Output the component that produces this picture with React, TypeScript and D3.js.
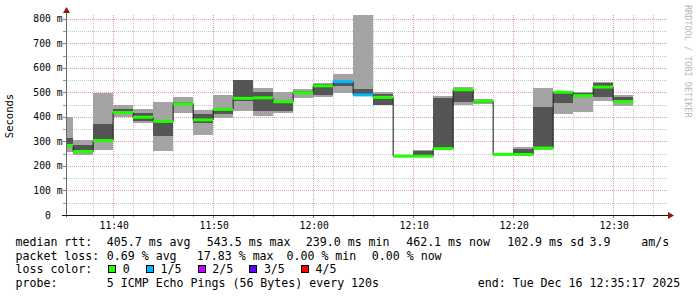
import React from 'react';
import * as d3 from 'd3';

// ---- data ----
const times = ["11:34","11:36","11:38","11:40","11:42","11:44","11:46","11:48","11:50","11:52","11:54","11:56","11:58","12:00","12:02","12:04","12:06","12:08","12:10","12:12","12:14","12:16","12:18","12:20","12:22","12:24","12:26","12:28","12:30"];
const ping1 =  [256,246,266,401,374,262,416,327,394,426,405,415,476,483,499,486,448,239,239,268,449,453,246,245,264,412,422,465,446];
const ping2 =  [277,255,300,412,382,321,449,374,412,465,426,426,494,490,527,488,450,239,239,268,462,457,247,245,269,457,482,483,457];
const median = [284,259,304,418,399,382,454,388,431,476,478,462,499,527,544,490,480,240,240,271,511,464,247,247,273,501,487,522,463];
const ping4 =  [314,287,371,434,416,388,461,412,437,549,502,465,506,533,547,513,494,240,263,476,514,471,247,271,442,504,496,538,483];
const ping5 =  [399,305,498,450,433,461,482,427,491,552,518,502,513,538,576,816,502,241,265,486,521,473,248,278,518,507,501,543,491];
const lossCount = [0,0,0,0,0,0,0,0,0,0,0,0,0,0,1,1,0,0,0,0,0,0,0,0,0,0,0,0,0];

const yGridValues = [50,100,150,200,250,300,350,400,450,500,550,600,650,700,750,800];
const yLabelValues = [0,100,200,300,400,500,600,700,800];
const lossLabels = ["0","1/5","2/5","3/5","4/5"];
const lossColors = ["#20ff00","#00b8ff","#c800ff","#5a00ff","#ff0000"];

const medianLegend = ["median rtt:","405.7 ms avg","543.5 ms max","239.0 ms min","462.1 ms now","102.9 ms sd","3.9","am/s"];
const lossLegend = ["packet loss:","0.69 % avg","17.83 % max","0.00 % min","0.00 % now"];
const probeLegend = ["probe:","5 ICMP Echo Pings (56 Bytes) every 120s","end: Tue Dec 16 12:35:17 2025"];

const W = 697, H = 297;
const X0 = 66, X1 = 666, YT = 15, YB = 215;
const MONO = "'DejaVu Sans Mono', monospace";

export default function App() {
  const parse = d3.timeParse("%H:%M:%S");
  const start = parse("11:35:17")!;
  const end = parse("12:35:17")!;
  const x = d3.scaleTime().domain([start, end]).range([X0, X1]);
  const y = d3.scaleLinear().domain([0, d3.max(ping5)!]).range([YB, YT]);

  const bars = times.map((t, i) => {
    const t0 = parse(t + ":00")!;
    const t1 = d3.timeMinute.offset(t0, 2);
    return { t0, t1, i };
  });

  const minorX = d3.timeMinute.every(2)!.range(d3.timeMinute.offset(start, 1), end);
  const isMajorX = (d: Date) => d.getMinutes() % 10 === 0;

  const stepPts: [Date, number][] = bars.map(b => [b.t0, median[b.i]]);
  stepPts.push([bars[bars.length - 1].t1, median[median.length - 1]]);
  const medLine = d3.line<[Date, number]>().x(d => x(d[0])).y(d => y(d[1])).curve(d3.curveStepAfter)(stepPts)!;

  const minorCol = "#c8c8c8";
  const majorCol = "#e4a0a0";

  // legend positions
  const col = [16, 107.3, 207.3, 306.3, 406.7, 507.7, 590, 641.7];
  const col2 = [16, 107.3, 197.3, 287, 372.3];
  const col4 = [16, 107.3, 478.3];
  const charW = 7.0;
  const lossItems: { sx: number; lx: number; label: string; color: string }[] = [];
  let cx = 108.3;
  lossLabels.forEach((l, i) => {
    lossItems.push({ sx: cx, lx: cx + 15, label: l, color: lossColors[i] });
    cx = cx + 15 + l.length * charW + 15.7;
  });

  return (
    <svg width={W} height={H} style={{ display: 'block', position: 'absolute', left: 0, top: 0, background: '#fff' }}>
      <defs>
        <clipPath id="plot"><rect x={X0} y={YT - 1} width={X1 - X0} height={YB - YT + 1} /></clipPath>
      </defs>
      <rect x={0} y={0} width={W} height={H} fill="#fff" />
      {/* grid */}
      <g shapeRendering="crispEdges">
        {yGridValues.filter(v => v % 100 !== 0).map(v => (
          <line key={'hy' + v} x1={X0 - 2} x2={X1 + 2} y1={Math.round(y(v)) + 0.5} y2={Math.round(y(v)) + 0.5} stroke={minorCol} strokeDasharray="1,1" />
        ))}
        {minorX.filter(d => !isMajorX(d)).map(d => (
          <line key={'vx' + d.getTime()} x1={Math.round(x(d)) + 0.5} x2={Math.round(x(d)) + 0.5} y1={YT} y2={YB + 2} stroke={minorCol} strokeDasharray="1,1" />
        ))}
        {yGridValues.filter(v => v % 100 === 0).map(v => (
          <line key={'hY' + v} x1={X0 - 2} x2={X1 + 2} y1={Math.round(y(v)) + 0.5} y2={Math.round(y(v)) + 0.5} stroke={majorCol} strokeDasharray="1,1" />
        ))}
        {minorX.filter(isMajorX).map(d => (
          <line key={'vX' + d.getTime()} x1={Math.round(x(d)) + 0.5} x2={Math.round(x(d)) + 0.5} y1={YT} y2={YB + 3} stroke={majorCol} strokeDasharray="1,1" />
        ))}
        {yGridValues.map(v => (
          <line key={'ty' + v} x1={X0 - 3} x2={X0} y1={Math.round(y(v)) + 0.5} y2={Math.round(y(v)) + 0.5} stroke={v % 100 === 0 ? "#b07070" : "#999"} />
        ))}
        {minorX.map(d => (
          <line key={'tx' + d.getTime()} x1={Math.round(x(d)) + 0.5} x2={Math.round(x(d)) + 0.5} y1={YB} y2={YB + (isMajorX(d) ? 3 : 2)} stroke={isMajorX(d) ? "#b07070" : "#999"} />
        ))}
      </g>
      {/* smoke */}
      <g clipPath="url(#plot)" shapeRendering="crispEdges">
        {bars.map(b => (
          <rect key={'l' + b.i} x={x(b.t0)} width={x(b.t1) - x(b.t0)} y={y(ping5[b.i])} height={y(ping1[b.i]) - y(ping5[b.i])} fill="#a4a4a4" />
        ))}
        {bars.map(b => (
          <rect key={'d' + b.i} x={x(b.t0)} width={x(b.t1) - x(b.t0)} y={y(ping4[b.i])} height={y(ping2[b.i]) - y(ping4[b.i])} fill="#555555" />
        ))}
      </g>
      <g clipPath="url(#plot)">
        <path d={medLine} fill="none" stroke="#1a1a1a" strokeWidth={1} />
        {bars.map(b => (
          <rect key={'m' + b.i} x={x(b.t0)} width={x(b.t1) - x(b.t0)} y={y(median[b.i]) - 1.5} height={3} fill={lossColors[lossCount[b.i]]} />
        ))}
      </g>
      {/* axes */}
      <line x1={X0 + 0.5} x2={X0 + 0.5} y1={YB + 2} y2={9} stroke="#666" strokeWidth={1} />
      <path d={`M${X0 - 3},${13} L${X0 + 0.5},${7} L${X0 + 4},${13} Z`} fill="#8b1a1a" />
      <line x1={X0 - 4} x2={X1 + 4} y1={YB + 0.5} y2={YB + 0.5} stroke="#111" strokeWidth={1} />
      <path d={`M${X1 + 2},${YB - 3} L${X1 + 8},${YB + 0.5} L${X1 + 2},${YB + 4} Z`} fill="#8b1a1a" />
      {/* y labels */}
      <g fontFamily={MONO} fontSize={9.7} fill="#000">
        {yLabelValues.map(v => (
          <text key={'yl' + v} x={62.5} y={y(v) + 3.5} textAnchor="end" style={{ whiteSpace: 'pre' }}>{v === 0 ? "0  " : `${v} m`}</text>
        ))}
        {minorX.filter(isMajorX).map(d => (
          <text key={'xl' + d.getTime()} x={x(d) + 1} y={228.5} textAnchor="middle">{d3.timeFormat("%H:%M")(d)}</text>
        ))}
      </g>
      <text transform="translate(13,116) rotate(-90)" textAnchor="middle" fontFamily={MONO} fontSize={10.5} fill="#000">Seconds</text>
      <text transform="translate(685,5) rotate(90)" textAnchor="start" fontFamily={MONO} fontSize={8.5} fill="#b8b8b8">RRDTOOL / TOBI OETIKER</text>
      {/* legend */}
      <g fontFamily={MONO} fontSize={11.6} fill="#000">
        {medianLegend.map((s, i) => <text key={'a' + i} x={col[i] - 0.5} y={245.8}>{s}</text>)}
        {lossLegend.map((s, i) => <text key={'b' + i} x={col2[i] - 0.5} y={259.5}>{s}</text>)}
        <text x={15.5} y={273.3}>loss color:</text>
        {lossItems.map((it, i) => (
          <g key={'c' + i}>
            <rect x={Math.round(it.sx) + 0.5} y={265.5} width={7} height={7} fill={it.color} stroke="#000" strokeWidth={1} shapeRendering="crispEdges" />
            <text x={it.lx - 0.5} y={273.3}>{it.label}</text>
          </g>
        ))}
        {probeLegend.map((s, i) => <text key={'p' + i} x={col4[i] - 0.5} y={287.2}>{s}</text>)}
      </g>
    </svg>
  );
}
